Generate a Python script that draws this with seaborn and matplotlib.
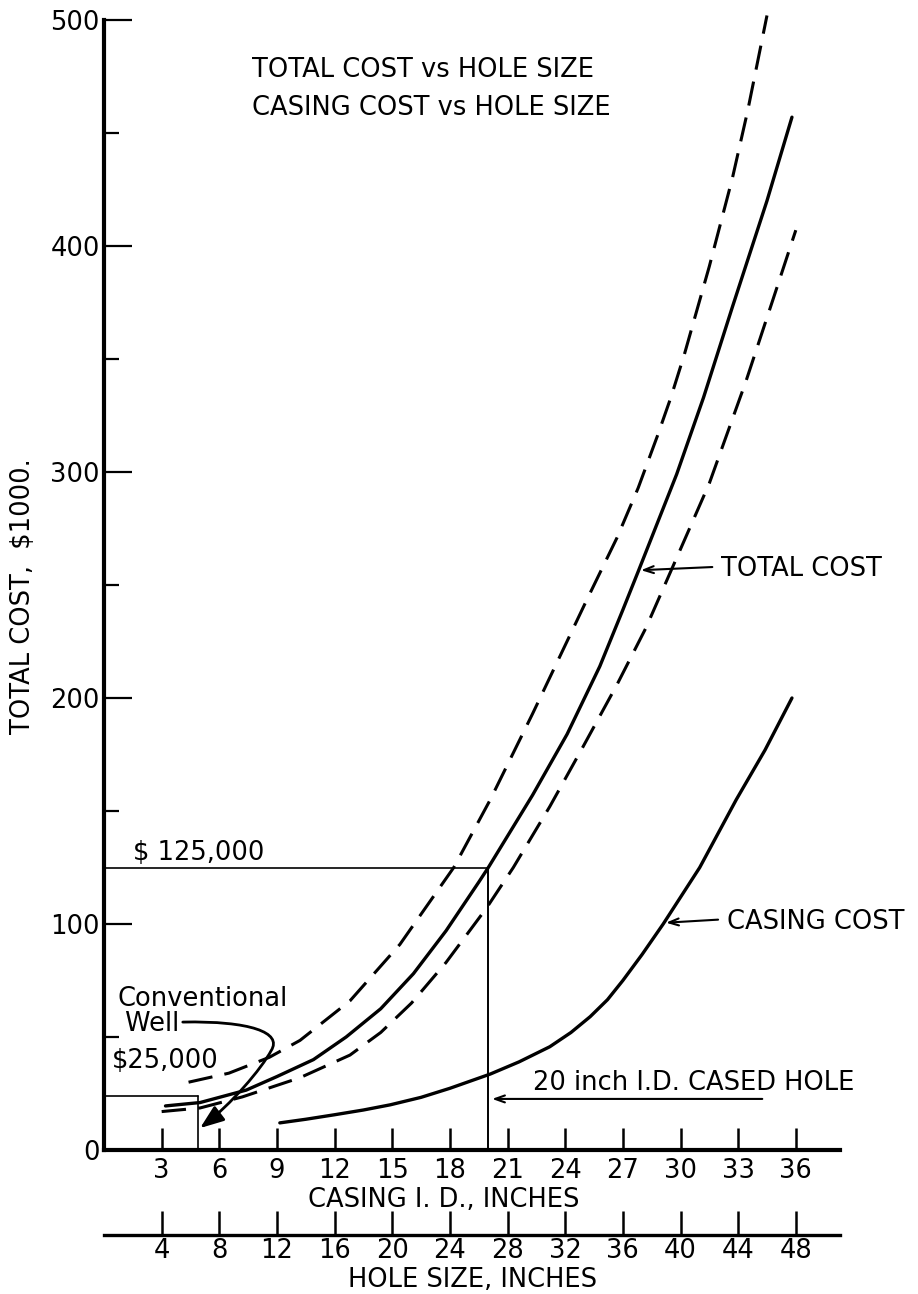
import matplotlib
matplotlib.use("Agg")
import matplotlib.pyplot as plt
import seaborn as sns
from matplotlib.path import Path
from matplotlib.patches import FancyArrowPatch

# ---------------- data ----------------
total_x = [3.2, 5.0, 7.4, 9.0, 10.9, 12.6, 14.4, 16.1, 17.8, 19.5, 20.0, 22.3, 24.1,
           25.8, 27.0, 27.8, 29.8, 31.2, 32.7, 34.5, 35.8]
total_y = [19.5, 21, 26.5, 32.5, 40, 50, 62.5, 78, 97, 118.5, 125, 157, 184,
           214, 239, 256, 299, 333, 373, 420, 457]

upper_x = [4.4, 6.5, 8.6, 10.2, 12.8, 15.4, 18.2, 20.1, 22.3, 25.1, 26.7, 27.8,
           28.8, 29.5, 30.2, 30.8, 31.5, 32.7, 33.5, 34.5]
upper_y = [30, 34, 41, 48.5, 66, 91, 125, 155, 193, 243, 271, 293,
           316, 333, 352, 370, 391, 430, 460, 502]

lower_x = [3.0, 5.0, 7.2, 10.2, 12.8, 14.4, 16.0, 17.8, 19.9, 21.3, 23.2, 24.9,
           26.7, 28.2, 29.8, 31.5, 33.4, 34.8, 36.0]
lower_y = [17, 18.6, 23.5, 32, 42, 52, 65, 83, 107, 125, 152, 178,
           206, 231, 262, 295, 340, 376, 407]

casing_x = [9.15, 10.5, 12.0, 13.5, 14.9, 16.5, 18.0, 20.1, 21.6, 23.2, 24.3, 25.3, 26.2, 27.0,
            28.0, 29.1, 31.0, 32.9, 34.4, 35.8]
casing_y = [12, 13.6, 15.6, 17.7, 20.0, 23.3, 27.3, 33.6, 39, 45.7, 52, 59, 66.5, 75,
            86.5, 100, 125, 155, 177, 200]

casing_ticks = [3, 6, 9, 12, 15, 18, 21, 24, 27, 30, 33, 36]
hole_ticks = [4, 8, 12, 16, 20, 24, 28, 32, 36, 40, 44, 48]
y_major = [0, 100, 200, 300, 400, 500]
y_minor = [50, 150, 250, 350, 450]

design_casing = 20       # 20 inch I.D. cased hole
design_cost = 125        # $125,000
conv_casing = 4.9        # conventional well
conv_cost = 24           # $25,000

# ---------------- style ----------------
sns.set_style("ticks")
plt.rcParams['font.family'] = ['DejaVu Sans']
for k in ['text.color', 'axes.labelcolor', 'xtick.color', 'ytick.color', 'axes.edgecolor']:
    plt.rcParams[k] = 'black'
FS = 18.5

fig = plt.figure(figsize=(9.18, 12.94), dpi=100)
ax = fig.add_axes([104 / 918, (1294 - 1150) / 1294, (840 - 104) / 918, (1150 - 20) / 1294])

dash = (0, (8, 4))
sns.lineplot(x=total_x, y=total_y, color='black', linewidth=2.4, ax=ax, clip_on=False)
sns.lineplot(x=upper_x, y=upper_y, color='black', linewidth=2.2, linestyle=dash, ax=ax, clip_on=False)
sns.lineplot(x=lower_x, y=lower_y, color='black', linewidth=2.2, linestyle=dash, ax=ax, clip_on=False)
sns.lineplot(x=casing_x, y=casing_y, color='black', linewidth=2.4, ax=ax, clip_on=False)

# reference lines
ax.plot([0, design_casing], [design_cost, design_cost], color='black', lw=1.2)
ax.plot([design_casing, design_casing], [0, design_cost], color='black', lw=1.4)
ax.plot([0, conv_casing], [conv_cost, conv_cost], color='black', lw=1.2)
ax.plot([conv_casing, conv_casing], [0, conv_cost], color='black', lw=1.2)

ax.set_xlim(0, 38.3)
ax.set_ylim(0, 500)
sns.despine(ax=ax)
ax.spines['left'].set_bounds(0, 500)
ax.spines['left'].set_linewidth(3)
ax.spines['bottom'].set_linewidth(3)

ax.set_yticks(y_major)
ax.set_yticks(y_minor, minor=True)
ax.set_xticks(casing_ticks)
ax.tick_params(axis='y', which='major', direction='in', length=20, width=1.6,
               labelsize=FS, pad=3)
ax.tick_params(axis='y', which='minor', direction='in', length=11, width=1.6)
ax.tick_params(axis='x', which='major', direction='in', length=16, width=1.8,
               labelsize=FS, pad=6)

ax.set_xlabel("CASING I. D., INCHES", fontsize=FS)
ax.xaxis.set_label_coords(0.462, -0.033)
ax.set_ylabel("TOTAL COST,  $1000.", fontsize=FS)
ax.yaxis.set_label_coords(-0.092, 0.49)

# secondary hole-size axis
secax = ax.secondary_xaxis(-0.0752, functions=(lambda c: c * 4 / 3, lambda h: h * 3 / 4))
secax.set_xticks(hole_ticks)
secax.tick_params(direction='in', length=17, width=1.8, labelsize=FS, pad=2)
secax.spines['bottom'].set_linewidth(2.4)
secax.set_xlabel("HOLE SIZE, INCHES", fontsize=FS, labelpad=2)

# titles
ax.text(7.7, 478, "TOTAL COST vs HOLE SIZE", fontsize=FS, va='center', ha='left')
ax.text(7.7, 461, "CASING COST vs HOLE SIZE", fontsize=FS, va='center', ha='left')

# labels with arrows
aprops = dict(arrowstyle='->,head_length=0.7,head_width=0.25', lw=1.5, color='black')
ax.text(32.1, 257, "TOTAL COST", fontsize=FS, va='center', ha='left')
ax.annotate("", xy=(27.8, 256.5), xytext=(31.8, 258), arrowprops=aprops)
ax.text(32.4, 101, "CASING COST", fontsize=FS, va='center', ha='left')
ax.annotate("", xy=(29.1, 100.5), xytext=(32.1, 102), arrowprops=aprops)
ax.text(22.3, 29.5, "20 inch I.D. CASED HOLE", fontsize=FS, va='center', ha='left')
ax.annotate("", xy=(design_casing + 0.05, 22.6), xytext=(34.4, 22.6), arrowprops=aprops)

ax.text(1.5, 131.5, "$ 125,000", fontsize=FS, va='center', ha='left')
ax.text(0.4, 39.5, "$25,000", fontsize=FS, va='center', ha='left')
ax.text(0.7, 61.2, "Conventional\n Well", fontsize=FS, va='center', ha='left',
        linespacing=0.95, multialignment='left')

verts = [(4.1, 56.6), (7.6, 57.2), (9.3, 52.0), (8.7, 44.0),
         (8.2, 36.0), (6.6, 20.0), (5.0, 9.7)]
codes = [Path.MOVETO, Path.CURVE4, Path.CURVE4, Path.CURVE4,
         Path.CURVE4, Path.CURVE4, Path.CURVE4]
arrow = FancyArrowPatch(path=Path(verts, codes), arrowstyle='-|>,head_length=0.8,head_width=0.3',
                        mutation_scale=18, lw=2.0, color='black')
ax.add_patch(arrow)

fig.savefig("out.png", dpi=100)
